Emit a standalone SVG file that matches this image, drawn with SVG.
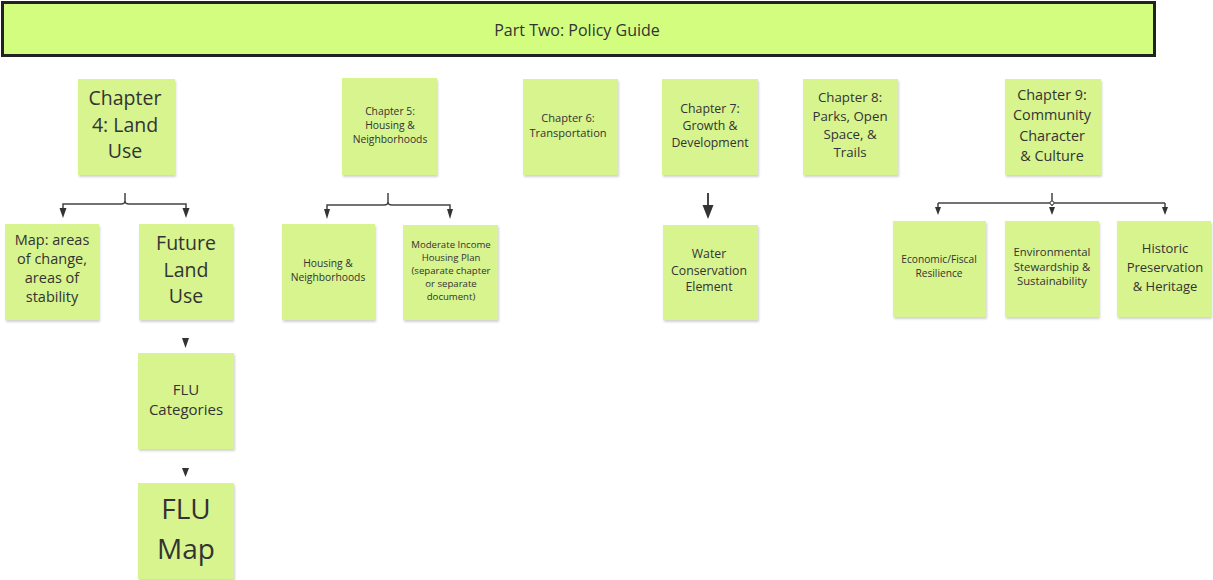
<svg xmlns="http://www.w3.org/2000/svg" width="1213" height="580" viewBox="0 0 1213 580">
<defs>
<style>
.n{fill:#d7f48f;filter:url(#sh)}
text{font-family:"Open Sans","Noto Sans","Liberation Sans",sans-serif;fill:#333;text-anchor:middle}
.c{fill:none;stroke:#444;stroke-width:1.5}
.c2{fill:none;stroke:#444;stroke-width:2}
.ah{fill:#333}
</style>
<filter id="sh" x="-10%" y="-10%" width="130%" height="130%">
<feDropShadow dx="1" dy="2" stdDeviation="1.2" flood-color="#000" flood-opacity="0.18"/>
</filter>
</defs>
<rect width="1213" height="580" fill="#fff"/>
<g id="title">
<rect x="2.5" y="2.5" width="1152" height="53" fill="#d2fd7f" stroke="#222" stroke-width="3"/>
<text x="577" y="36" font-size="16">Part Two: Policy Guide</text>
</g>
<g id="connectors">
<path class="c" d="M125,193 V201 Q125,204 121,204 H63 V208"/>
<path class="c" d="M125,201 Q125,204 129,204 H186 V208"/>
<path d="M59.5,208 L66.5,208 L63,218 Z" class="ah"/>
<path d="M182.5,208 L189.5,208 L186,218 Z" class="ah"/>
<path class="c" d="M388,193 V202 Q388,205 384,205 H327 V209"/>
<path class="c" d="M388,202 Q388,205 392,205 H450 V209"/>
<path d="M324,209 L330,209 L327,219 Z" class="ah"/>
<path d="M447,209 L453,209 L450,219 Z" class="ah"/>
<path class="c2" d="M708,193 V206"/>
<path d="M702.5,205 L713.5,205 L708,219 Z" class="ah"/>
<path class="c" d="M1052,193 V206 M938,203 H1165 M938,203 V207 M1165,203 V207"/>
<circle cx="1052" cy="203" r="2" fill="#fff" stroke="#444" stroke-width="1"/>
<path d="M935,207 L941,207 L938,215 Z" class="ah"/>
<path d="M1049,207 L1055,207 L1052,215 Z" class="ah"/>
<path d="M1162,207 L1168,207 L1165,215 Z" class="ah"/>
<path d="M182,338 L189,338 L185.5,348 Z" class="ah"/>
<path d="M182,468 L189,468 L185.5,477 Z" class="ah"/>
</g>
<g id="ch4">
<rect class="n" x="78" y="79" width="97" height="96"/>
<text font-size="19.5" x="125"><tspan x="125" y="105">Chapter</tspan><tspan x="125" y="132">4: Land</tspan><tspan x="125" y="158">Use</tspan></text>
</g>
<g id="map">
<rect class="n" x="5" y="224" width="94" height="96"/>
<text font-size="14.5"><tspan x="52" y="245">Map: areas</tspan><tspan x="52" y="264">of change,</tspan><tspan x="52" y="283">areas of</tspan><tspan x="52" y="302">stability</tspan></text>
</g>
<g id="flu">
<rect class="n" x="139" y="224" width="94" height="96"/>
<text font-size="19.5"><tspan x="186" y="250">Future</tspan><tspan x="186" y="277">Land</tspan><tspan x="186" y="303">Use</tspan></text>
</g>
<g id="flucat">
<rect class="n" x="138" y="353" width="96" height="96"/>
<text font-size="15"><tspan x="186" y="395">FLU</tspan><tspan x="186" y="415">Categories</tspan></text>
</g>
<g id="flumap">
<rect class="n" x="138" y="483" width="96" height="96"/>
<text font-size="28"><tspan x="186" y="519">FLU</tspan><tspan x="186" y="559">Map</tspan></text>
</g>
<g id="ch5">
<rect class="n" x="342" y="78" width="95" height="97"/>
<text font-size="10.3"><tspan x="390" y="115">Chapter 5:</tspan><tspan x="390" y="129">Housing &amp;</tspan><tspan x="390" y="143">Neighborhoods</tspan></text>
</g>
<g id="housing">
<rect class="n" x="282" y="224" width="93" height="96"/>
<text font-size="10.3"><tspan x="328" y="267">Housing &amp;</tspan><tspan x="328" y="281">Neighborhoods</tspan></text>
</g>
<g id="mihp">
<rect class="n" x="403" y="225" width="95" height="95"/>
<text font-size="9.6"><tspan x="451" y="248">Moderate Income</tspan><tspan x="451" y="261">Housing Plan</tspan><tspan x="451" y="274">(separate chapter</tspan><tspan x="451" y="287">or separate</tspan><tspan x="451" y="300">document)</tspan></text>
</g>
<g id="ch6">
<rect class="n" x="523" y="79" width="95" height="96"/>
<text font-size="11.1"><tspan x="568" y="122">Chapter 6:</tspan><tspan x="568" y="137">Transportation</tspan></text>
</g>
<g id="ch7">
<rect class="n" x="662" y="79" width="96" height="96"/>
<text font-size="12.3"><tspan x="710" y="113">Chapter 7:</tspan><tspan x="710" y="130">Growth &amp;</tspan><tspan x="710" y="147">Development</tspan></text>
</g>
<g id="water">
<rect class="n" x="663" y="225" width="95" height="95"/>
<text font-size="12.3"><tspan x="709" y="258">Water</tspan><tspan x="709" y="275">Conservation</tspan><tspan x="709" y="291">Element</tspan></text>
</g>
<g id="ch8">
<rect class="n" x="803" y="79" width="95" height="96"/>
<text font-size="13.3"><tspan x="850" y="102">Chapter 8:</tspan><tspan x="850" y="121">Parks, Open</tspan><tspan x="850" y="139">Space, &amp;</tspan><tspan x="850" y="157">Trails</tspan></text>
</g>
<g id="ch9">
<rect class="n" x="1005" y="79" width="96" height="96"/>
<text font-size="14.4"><tspan x="1052" y="100">Chapter 9:</tspan><tspan x="1052" y="120">Community</tspan><tspan x="1052" y="141">Character</tspan><tspan x="1052" y="161">&amp; Culture</tspan></text>
</g>
<g id="econ">
<rect class="n" x="893" y="221" width="93" height="96"/>
<text font-size="10.2"><tspan x="939" y="263">Economic/Fiscal</tspan><tspan x="939" y="277">Resilience</tspan></text>
</g>
<g id="env">
<rect class="n" x="1005" y="221" width="94" height="96"/>
<text font-size="11.3"><tspan x="1052" y="256">Environmental</tspan><tspan x="1052" y="271">Stewardship &amp;</tspan><tspan x="1052" y="285">Sustainability</tspan></text>
</g>
<g id="hist">
<rect class="n" x="1117" y="221" width="94" height="96"/>
<text font-size="13"><tspan x="1165" y="253">Historic</tspan><tspan x="1165" y="272">Preservation</tspan><tspan x="1165" y="291">&amp; Heritage</tspan></text>
</g>
</svg>
